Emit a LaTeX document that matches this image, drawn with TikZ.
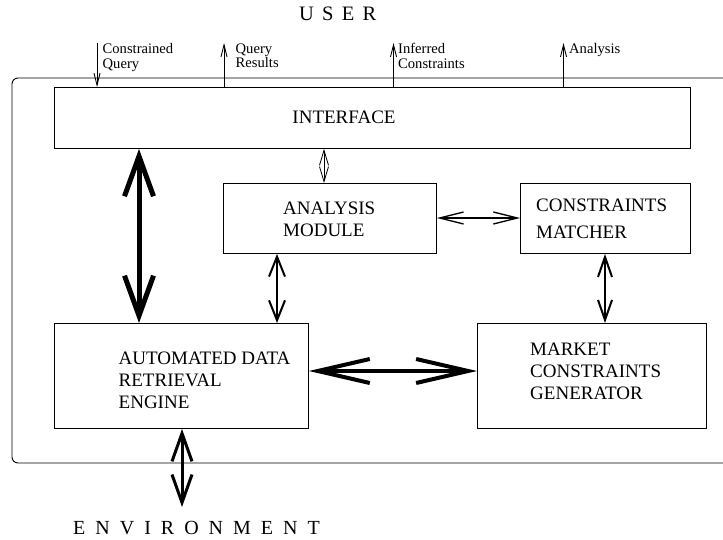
\documentclass[tikz,border=0pt]{standalone}
\usepackage{fontspec}
\setmainfont{Liberation Serif}
\usetikzlibrary{arrows.meta}
\begin{document}
\begin{tikzpicture}[x=1pt,y=-1pt,
  box/.style={draw, line width=0.9pt, inner sep=0pt, anchor=north west},
  btxt/.style={font=\fontsize{19}{22}\selectfont, align=left, inner sep=0pt, anchor=north west},
  lab/.style={font=\fontsize{14.6}{14.6}\selectfont, align=left, inner sep=0pt, anchor=north west},
  thinarr/.style={line width=0.9pt},
]
\useasboundingbox (0,0) rectangle (723,540);

% outer frame
\draw[line width=0.9pt, rounded corners=6pt] (12,78) rectangle (745,463);

% titles
\node[font=\fontsize{20.5}{24}\selectfont, anchor=base west, inner sep=0pt] (user) at (299,20.5) {\addfontfeature{LetterSpace=40}USER};
\node[font=\fontsize{20}{24}\selectfont, anchor=base west, inner sep=0pt] (env) at (73,534) {\addfontfeature{LetterSpace=50}ENVIRONMENT};

% boxes
\node[box, minimum width=636pt, minimum height=61pt] (iface) at (54,87) {};
\node[font=\fontsize{19}{22}\selectfont, inner sep=0pt] (ifacet) at (344,117) {INTERFACE};
\node[box, minimum width=213pt, minimum height=70pt] (anal) at (223,183) {};
\node[btxt] (analt) at (283,202) {ANALYSIS\\MODULE};
\node[box, minimum width=170pt, minimum height=70pt] (cm) at (520,183) {};
\node[btxt, font=\fontsize{19}{27}\selectfont] (cmt) at (536,199) {CONSTRAINTS\\MATCHER};
\node[box, minimum width=254pt, minimum height=105pt] (adre) at (54,323) {};
\node[btxt] (adret) at (118.5,352) {AUTOMATED DATA\\RETRIEVAL\\ENGINE};
\node[box, minimum width=229pt, minimum height=105pt] (mcg) at (477,323) {};
\node[btxt] (mcgt) at (530,343) {MARKET\\CONSTRAINTS\\GENERATOR};

% top arrows and labels
\coordinate (ucq) at (97,43);
\coordinate (uqr) at (224,43);
\coordinate (uic) at (393.5,43);
\coordinate (uan) at (563.5,43);
\draw[thinarr, -{Straight Barb[length=12pt,width=6pt]}] (ucq) -- (iface.north -| ucq);
\draw[thinarr, -{Straight Barb[length=12pt,width=6pt]}] (iface.north -| uqr) -- (uqr);
\draw[thinarr, -{Straight Barb[length=12pt,width=6pt]}] (iface.north -| uic) -- (uic);
\draw[thinarr, -{Straight Barb[length=12pt,width=6pt]}] (iface.north -| uan) -- (uan);
\node[lab] (lcq) at (102.5,43.5) {Constrained\\Query};
\node[lab] (lqr) at (235.5,43.5) {Query\\Results};
\node[lab] (lic) at (398,43.5) {Inferred\\Constraints};
\node[lab] (lan) at (569,43.5) {Analysis};

% internal connectors
\coordinate (xa) at (324,0);
\coordinate (xb) at (139,0);
\coordinate (xc) at (277,0);
\coordinate (xd) at (605,0);
\coordinate (xe) at (182,0);
\coordinate (ya) at (0,218);
\coordinate (yb) at (0,371);
\coordinate (envtip) at (182,507);

\draw[line width=0.8pt, {Straight Barb[length=15pt,width=9pt]}-{Straight Barb[length=15pt,width=9pt]}]
  (iface.south -| xa) -- (anal.north -| xa);
\draw[line width=5pt, {Straight Barb[length=40pt,width=29pt]}-{Straight Barb[length=40pt,width=29pt]}]
  (iface.south -| xb) -- (adre.north -| xb);
\draw[line width=2pt, {Straight Barb[length=20pt,width=16pt]}-{Straight Barb[length=20pt,width=16pt]}]
  (anal.south -| xc) -- (adre.north -| xc);
\draw[line width=1.3pt, {Straight Barb[length=24pt,width=12pt]}-{Straight Barb[length=24pt,width=12pt]}]
  (anal.east |- ya) -- (cm.west |- ya);
\draw[line width=2pt, {Straight Barb[length=20pt,width=14pt]}-{Straight Barb[length=20pt,width=14pt]}]
  (cm.south -| xd) -- (mcg.north -| xd);
\draw[line width=4pt, {Straight Barb[length=52pt,width=24pt]}-{Straight Barb[length=52pt,width=24pt]}]
  (adre.east |- yb) -- (mcg.west |- yb);
\draw[line width=3pt, {Straight Barb[length=28pt,width=20pt]}-{Straight Barb[length=28pt,width=20pt]}]
  (adre.south -| xe) -- (envtip);
\end{tikzpicture}
\end{document}
